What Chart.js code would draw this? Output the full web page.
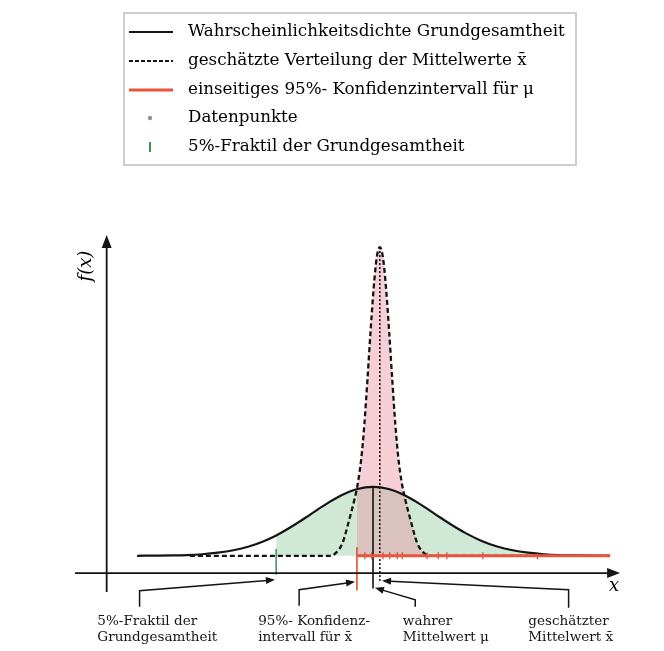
<!DOCTYPE html>
<html>
<head>
<meta charset="utf-8">
<script src="https://cdn.jsdelivr.net/npm/chart.js@4.4.0/dist/chart.umd.min.js"></script>
<style>
html, body { margin: 0; padding: 0; background: #fff; }
canvas { display: block; }
</style>
</head>
<body>
<canvas id="grafica" width="664" height="651"></canvas>
<script>
// Dichte der Grundgesamtheit (mu = 0)
var grundX = [-38, -35, -32.5, -30, -27.5, -25, -22.5, -20, -17.5, -15.6, -12.5, -10, -7.5, -5, -2.5, 0,
              2.5, 5, 7.5, 10, 12.5, 15, 17.5, 20, 22.5, 25, 27.5, 30, 32.5, 35, 38];
var grundY = [0, 0.001, 0.002, 0.004, 0.009, 0.018, 0.032, 0.054, 0.086, 0.118, 0.183, 0.242, 0.301, 0.352, 0.387, 0.399,
              0.387, 0.352, 0.301, 0.242, 0.183, 0.130, 0.086, 0.054, 0.032, 0.018, 0.009, 0.004, 0.002, 0.001, 0];

// geschaetzte Verteilung der Mittelwerte
var mittelX = [-29.5, -8, -6.9, -5.9, -4.9, -3.9, -2.9, -2.6, -2.4, -1.9, -1.4, -0.9, -0.4, 0.1, 0.6, 1.1,
               1.6, 2.1, 2.6, 3.1, 3.6, 4.1, 4.6, 5.1, 6.1, 7.1, 8.1, 9.1, 10.2, 38];
var mittelY = [0, 0, 0, 0.02, 0.075, 0.20, 0.34, 0.39, 0.43, 0.56, 0.76, 1.02, 1.30, 1.55, 1.73, 1.79,
               1.73, 1.55, 1.30, 1.02, 0.76, 0.56, 0.43, 0.34, 0.20, 0.075, 0.02, 0, 0, 0];

var datenpunkte = [-1.3, -0.2, 1.6, 2.7, 3.9, 4.7, 8.7, 10.5, 11.9, 17.7, 26.5];

var mu = 0;
var xquer = 1.1;
var fraktil = -15.6;
var konfGrenze = -2.6;
var konfEnde = 38.2;

var legendeTexte = [
    'Wahrscheinlichkeitsdichte Grundgesamtheit',
    'geschätzte Verteilung der Mittelwerte x̄',
    'einseitiges 95%- Konfidenzintervall für μ',
    'Datenpunkte',
    '5%-Fraktil der Grundgesamtheit'
];

var hinweisTexte = [
    ['5%-Fraktil der', 'Grundgesamtheit'],
    ['95%- Konfidenz-', 'intervall für x̄'],
    ['wahrer', 'Mittelwert μ'],
    ['geschätzter', 'Mittelwert x̄']
];

// Lage der Hinweispfeile (in Achseneinheiten)
var hinweisLage = [
    { textX: -44.4, weg: [[-37.6, -0.296], [-37.6, -0.203], [-15.8, -0.139]] },
    { textX: -18.5, weg: [[-11.9, -0.29], [-11.9, -0.197], [-2.9, -0.151]] },
    { textX: 4.8,   weg: [[6.8, -0.296], [6.8, -0.255], [0.3, -0.186]] },
    { textX: 25.0,  weg: [[31.5, -0.301], [31.5, -0.197], [1.45, -0.145]] }
];

function punkte(xs, ys, ab) {
    var res = [];
    for (var i = 0; i < xs.length; i++) {
        if (ab === undefined || xs[i] >= ab) res.push({ x: xs[i], y: ys[i] });
    }
    return res;
}

var SCHWARZ = '#141414';
var ROT = '#e8553a';
var GRUEN = '#3f8f55';

function pfeilspitze(ctx, x0, y0, x1, y1, len, halb) {
    var a = Math.atan2(y1 - y0, x1 - x0);
    ctx.beginPath();
    ctx.moveTo(x1, y1);
    ctx.lineTo(x1 - len * Math.cos(a) + halb * Math.sin(a), y1 - len * Math.sin(a) - halb * Math.cos(a));
    ctx.lineTo(x1 - len * Math.cos(a) - halb * Math.sin(a), y1 - len * Math.sin(a) + halb * Math.cos(a));
    ctx.closePath();
    ctx.fill();
}

function passendeGroesse(ctx, text, breite, stil) {
    ctx.font = stil + '20px "DejaVu Serif"';
    return 20 * breite / ctx.measureText(text).width;
}

var zeichnung = {
    id: 'zeichnung',
    afterDraw: function(chart) {
        var ctx = chart.ctx;
        var sx = chart.scales.x, sy = chart.scales.y;
        var px = function(v) { return sx.getPixelForValue(v); };
        var py = function(v) { return sy.getPixelForValue(v); };
        ctx.save();

        // Achsen
        ctx.strokeStyle = SCHWARZ;
        ctx.fillStyle = SCHWARZ;
        ctx.lineWidth = 1.8;
        var ay = py(-0.1), ax = px(-42.9);
        var xEnde = px(39.8);
        ctx.beginPath();
        ctx.moveTo(px(sx.min), ay);
        ctx.lineTo(xEnde - 10, ay);
        ctx.moveTo(ax, py(sy.min));
        ctx.lineTo(ax, py(sy.max) + 10);
        ctx.stroke();
        pfeilspitze(ctx, px(sx.min), ay, xEnde, ay, 13, 5);
        pfeilspitze(ctx, ax, py(sy.min), ax, py(sy.max), 13, 5);

        // Achsenbeschriftung
        ctx.fillStyle = '#000';
        ctx.font = 'italic 18px "DejaVu Serif"';
        ctx.textAlign = 'center';
        ctx.textBaseline = 'middle';
        ctx.fillText('x', xEnde - 6, ay + 13);
        ctx.save();
        ctx.translate(ax - 20, py(1.68));
        ctx.rotate(-Math.PI / 2);
        ctx.fillText('f(x)', 0, 0);
        ctx.restore();

        // Hinweise mit Pfeilen
        ctx.fillStyle = SCHWARZ;
        ctx.lineWidth = 1.5;
        var gr = passendeGroesse(ctx, 'Grundgesamtheit', 120, '');
        ctx.textAlign = 'left';
        for (var i = 0; i < hinweisLage.length; i++) {
            var h = hinweisLage[i], w = h.weg;
            ctx.beginPath();
            ctx.moveTo(px(w[0][0]), py(w[0][1]));
            ctx.lineTo(px(w[1][0]), py(w[1][1]));
            var bx = px(w[2][0]) - px(w[1][0]), by = py(w[2][1]) - py(w[1][1]);
            var l = Math.sqrt(bx * bx + by * by);
            ctx.lineTo(px(w[2][0]) - bx / l * 8, py(w[2][1]) - by / l * 8);
            ctx.stroke();
            pfeilspitze(ctx, px(w[1][0]), py(w[1][1]), px(w[2][0]), py(w[2][1]), 9, 3.5);
            ctx.font = gr.toFixed(2) + 'px "DejaVu Serif"';
            ctx.fillText(hinweisTexte[i][0], px(h.textX), py(-0.383));
            ctx.fillText(hinweisTexte[i][1], px(h.textX), py(-0.475));
        }

        // Legende
        ctx.strokeStyle = '#cdcdcd';
        ctx.lineWidth = 2;
        ctx.strokeRect(124, 13, 452, 152);
        var lg = passendeGroesse(ctx, legendeTexte[0], 377, '');
        ctx.font = lg.toFixed(2) + 'px "DejaVu Serif"';
        ctx.fillStyle = '#000';
        var zeilenY = [32, 61, 90, 118, 147];
        for (var j = 0; j < legendeTexte.length; j++) {
            var y = zeilenY[j];
            ctx.save();
            if (j === 0 || j === 1 || j === 2) {
                ctx.beginPath();
                ctx.moveTo(129, y);
                ctx.lineTo(173, y);
                ctx.lineWidth = j === 2 ? 3 : 2;
                ctx.strokeStyle = j === 2 ? ROT : SCHWARZ;
                if (j === 1) ctx.setLineDash([4, 2]);
                ctx.stroke();
            } else if (j === 3) {
                ctx.fillStyle = '#a88c8c';
                ctx.beginPath();
                ctx.arc(150, y, 2.2, 0, Math.PI * 2);
                ctx.fill();
            } else {
                ctx.strokeStyle = GRUEN;
                ctx.lineWidth = 2;
                ctx.beginPath();
                ctx.moveTo(150, y - 5);
                ctx.lineTo(150, y + 5);
                ctx.stroke();
            }
            ctx.restore();
            ctx.fillText(legendeTexte[j], 188, y);
        }
        ctx.restore();
    }
};

var gipfelGrund = Math.max.apply(null, grundY);
var gipfelMittel = Math.max.apply(null, mittelY);

new Chart(document.getElementById('grafica').getContext('2d'), {
    type: 'line',
    data: {
        datasets: [
            {
                label: 'Konfidenzintervall',
                data: [{ x: konfGrenze, y: 0 }, { x: konfEnde, y: 0 }],
                borderColor: ROT, borderWidth: 3, pointRadius: 0, order: 0
            },
            {
                label: 'Datenpunkte',
                data: datenpunkte.map(function(v) { return { x: v, y: 0 }; }),
                showLine: false, pointStyle: 'line', rotation: 90, pointRadius: 3.5,
                borderColor: '#b03020', borderWidth: 1, order: 1
            },
            {
                label: 'Mittelwerte',
                data: punkte(mittelX, mittelY),
                borderColor: SCHWARZ, borderWidth: 2.3, borderDash: [5, 3],
                cubicInterpolationMode: 'monotone', pointRadius: 0, order: 2
            },
            {
                label: 'Grundgesamtheit',
                data: punkte(grundX, grundY),
                borderColor: SCHWARZ, borderWidth: 2.2,
                cubicInterpolationMode: 'monotone', pointRadius: 0, order: 3
            },
            {
                label: 'mu',
                data: [{ x: mu, y: gipfelGrund }, { x: mu, y: -0.19 }],
                borderColor: SCHWARZ, borderWidth: 1.6, pointRadius: 0, order: 4
            },
            {
                label: 'xquer',
                data: [{ x: xquer, y: gipfelMittel }, { x: xquer, y: -0.145 }],
                borderColor: SCHWARZ, borderWidth: 1.6, borderDash: [2, 2], pointRadius: 0, order: 4
            },
            {
                label: 'Grenze',
                data: [{ x: konfGrenze, y: 0.05 }, { x: konfGrenze, y: -0.2 }],
                borderColor: ROT, borderWidth: 1, pointRadius: 0, order: 4
            },
            {
                label: 'Fraktil',
                data: [{ x: fraktil, y: 0.04 }, { x: fraktil, y: -0.11 }],
                borderColor: GRUEN, borderWidth: 1.5, pointRadius: 0, order: 4
            },
            {
                label: 'Flaeche Mittelwerte',
                data: punkte(mittelX, mittelY, konfGrenze),
                borderWidth: 0, pointRadius: 0, cubicInterpolationMode: 'monotone',
                fill: 'origin', backgroundColor: 'rgba(232,140,155,0.42)', order: 5
            },
            {
                label: 'Flaeche Grundgesamtheit',
                data: punkte(grundX, grundY, fraktil),
                borderWidth: 0, pointRadius: 0, cubicInterpolationMode: 'monotone',
                fill: 'origin', backgroundColor: 'rgba(150,205,165,0.45)', order: 6
            }
        ]
    },
    options: {
        responsive: false,
        animation: false,
        layout: { padding: { left: 75, right: 24, top: 235, bottom: 59 } },
        plugins: { legend: { display: false }, tooltip: { enabled: false } },
        scales: {
            x: { type: 'linear', min: -48, max: 43, display: false },
            y: { min: -0.21, max: 1.86, display: false }
        }
    },
    plugins: [zeichnung]
});
</script>
</body>
</html>
